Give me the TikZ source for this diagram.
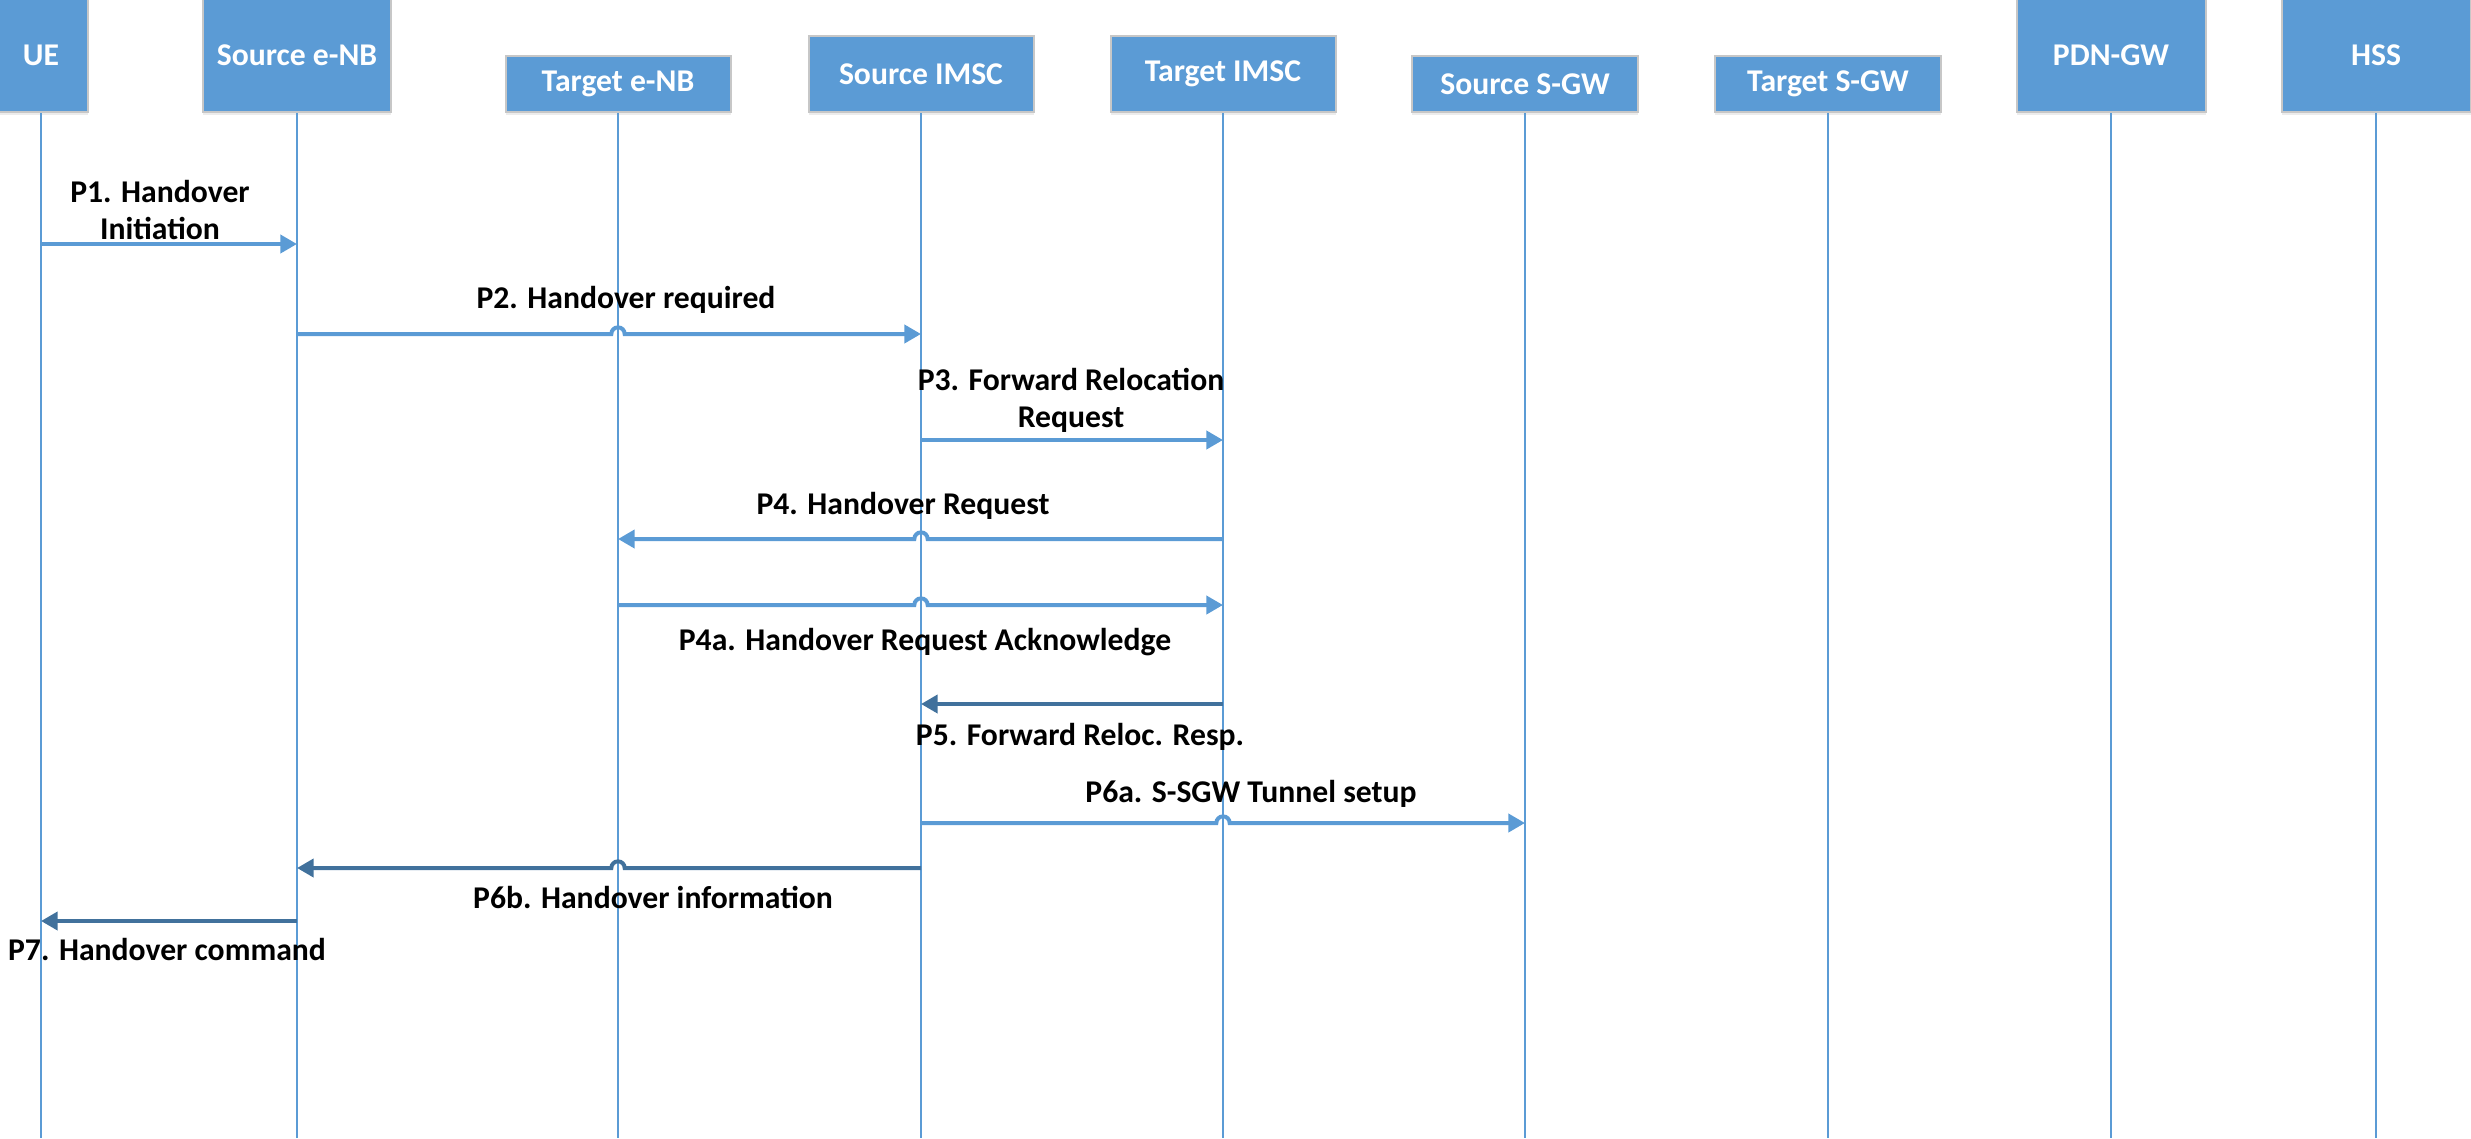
\documentclass[tikz,border=0pt]{standalone}
\usepackage{fontspec}
\setmainfont{Carlito}
\usetikzlibrary{arrows.meta,shadows}
\definecolor{hdrblue}{HTML}{5B9BD5}
\definecolor{msgdark}{HTML}{41719C}
\begin{document}
\begin{tikzpicture}[x=0.3pt,y=-0.3pt,
        hdr/.style = {rectangle, draw=black!22, line width=0.6pt,
            fill=hdrblue, text=white, inner sep=0pt, anchor=south,
            font=\bfseries\fontsize{9.5}{11}\selectfont,
            drop shadow={opacity=0.15, shadow xshift=0pt, shadow yshift=-1pt}},
        life/.style = {draw=hdrblue, line width=0.55pt},
        msg/.style = {draw=hdrblue, line width=1.2pt,
            -{Triangle[length=5pt,width=5.4pt]}},
        msgd/.style = {msg, draw=msgdark},
        lbl/.style = {align=center, font=\bfseries\fontsize{9.5}{11.1}\selectfont}]
    \useasboundingbox (0,0) rectangle (2471,1138);
    % header boxes
    \node[hdr, minimum width=28.2pt, minimum height=33.9pt] (ue) at (41,113) {UE};
    \node[hdr, minimum width=56.4pt, minimum height=33.9pt] (senb) at (297,113) {Source e-NB};
    \node[hdr, minimum width=67.5pt, minimum height=16.8pt] (tenb) at (618,113) {Target e-NB};
    \node[hdr, minimum width=67.5pt, minimum height=22.8pt] (simsc) at (921,113) {Source IMSC};
    \node[hdr, minimum width=67.5pt, minimum height=22.8pt] (timsc) at (1223,113) {Target IMSC};
    \node[hdr, minimum width=67.8pt, minimum height=16.8pt] (ssgw) at (1525,113) {Source S-GW};
    \node[hdr, minimum width=67.8pt, minimum height=16.8pt] (tsgw) at (1828,113) {Target S-GW};
    \node[hdr, minimum width=56.7pt, minimum height=33.9pt] (pgw) at (2111,113) {PDN-GW};
    \node[hdr, minimum width=56.7pt, minimum height=33.9pt] (hss) at (2376,113) {HSS};
    % lifelines
    \foreach \n in {ue,senb,tenb,simsc,timsc,ssgw,tsgw,pgw,hss}
        \draw[life] (\n.south) -- (\n.south |- 0,1138);
    % messages
    \draw[msg] (ue |- 0,244) -- (senb |- 0,244);
    \node[lbl] (p1) at (160,210) {P1. Handover\\Initiation};
    \draw[msg] (senb |- 0,334) -- ([xshift=-2pt]tenb |- 0,334)
        arc[start angle=180, end angle=0, radius=2pt] -- (simsc |- 0,334);
    \node[lbl] (p2) at (626,300) {P2. Handover required};
    \draw[msg] (simsc |- 0,440) -- (timsc |- 0,440);
    \node[lbl] (p3) at (1071,400) {P3. Forward Relocation\\Request};
    \draw[msg] (timsc |- 0,539) -- ([xshift=2pt]simsc |- 0,539)
        arc[start angle=0, end angle=180, radius=2pt] -- (tenb |- 0,539);
    \node[lbl] (p4) at (903,506) {P4. Handover Request};
    \draw[msg] (tenb |- 0,605) -- ([xshift=-2pt]simsc |- 0,605)
        arc[start angle=180, end angle=0, radius=2pt] -- (timsc |- 0,605);
    \node[lbl] (p4a) at (925,642) {P4a. Handover Request Acknowledge};
    \draw[msgd] (timsc |- 0,704) -- (simsc |- 0,704);
    \node[lbl] (p5) at (1080,737) {P5. Forward Reloc. Resp.};
    \draw[msg] (simsc |- 0,823) -- ([xshift=-2pt]timsc |- 0,823)
        arc[start angle=180, end angle=0, radius=2pt] -- (ssgw |- 0,823);
    \node[lbl] (p6a) at (1251,794) {P6a. S-SGW Tunnel setup};
    \draw[msgd] (simsc |- 0,868) -- ([xshift=2pt]tenb |- 0,868)
        arc[start angle=0, end angle=180, radius=2pt] -- (senb |- 0,868);
    \node[lbl] (p6b) at (653,897) {P6b. Handover information};
    \draw[msgd] (senb |- 0,921) -- (ue |- 0,921);
    \node[lbl] (p7) at (167,949) {P7. Handover command};
\end{tikzpicture}
\end{document}
